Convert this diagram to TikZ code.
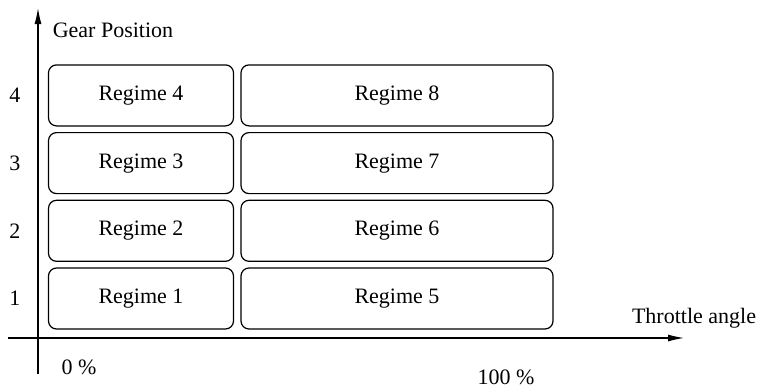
\documentclass[tikz,border=0pt]{standalone}
\usepackage{fontspec}
\setmainfont{Liberation Serif}
\usetikzlibrary{arrows.meta}
\begin{document}
\begin{tikzpicture}[x=0.5pt,y=-0.5pt,
    every node/.style={font=\fontsize{11}{13}\selectfont},
    regime/.style={draw,line width=0.6pt,rounded corners=4pt,
        minimum height=30.5pt,inner sep=0pt},
    axis/.style={line width=0.6pt,-{Latex[length=8pt,width=3.5pt]}}]
    \useasboundingbox (0,0) rectangle (761,386);
    % axes
    \coordinate (ybot) at (38,374);
    \coordinate (ytop) at (38,8);
    \coordinate (xleft) at (8,338);
    \coordinate (xright) at (684,338);
    \draw[axis] (ybot) -- (ytop);
    \draw[axis] (xleft) -- (xright);
    \node (ylabel) at (113,30) {Gear Position};
    \node (xlabel) at (694,318) {Throttle angle};
    \node (zero) at (79,367) {0 \%};
    \node (full) at (506,377) {100 \%};
    % regimes, one row per gear
    \foreach \g in {1,...,4} {
        \pgfmathsetmacro\yy{298.5-(\g-1)*67.7}
        \pgfmathtruncatemacro\h{\g+4}
        \node (gear\g) at (15,\yy) {\g};
        \node[regime,minimum width=92.5pt] (reg\g) at (141,\yy) {Regime \g};
        \node[regime,minimum width=156pt] (reg\h) at (397,\yy) {Regime \h};
    }
\end{tikzpicture}
\end{document}
